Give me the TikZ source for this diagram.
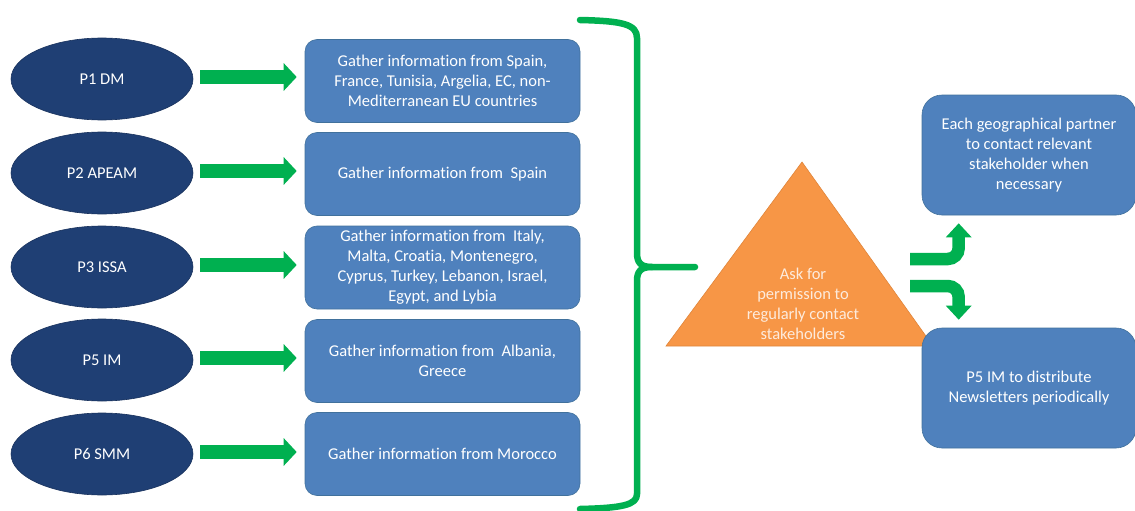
\documentclass[tikz,border=0pt]{standalone}
\usepackage{fontspec}
\setmainfont{Carlito}[Ligatures=NoCommon]
\usetikzlibrary{shapes.geometric,arrows.meta,calc}
\definecolor{navy}{HTML}{1F3F74}
\definecolor{boxblue}{HTML}{4F81BD}
\definecolor{boxedge}{HTML}{41719C}
\definecolor{ggreen}{HTML}{00B050}
\definecolor{gorange}{HTML}{F79646}
\definecolor{oedge}{HTML}{E0853A}
\definecolor{ptext}{HTML}{FDEBDD}
\tikzset{
  partner/.style={ellipse, fill=navy, draw=navy!80!black, line width=0.6pt, minimum width=182pt, minimum height=82pt, inner sep=0pt, text=white, font=\fontsize{16.5}{20}\selectfont},
  infobox/.style={rectangle, rounded corners=12pt, fill=boxblue, draw=boxedge, line width=0.6pt, minimum width=275pt, minimum height=83pt, inner sep=2pt, align=center, text=white, font=\fontsize{16.5}{20}\selectfont},
  outbox/.style={rectangle, rounded corners=20pt, fill=boxblue, draw=boxedge, line width=0.6pt, minimum width=214pt, minimum height=120pt, inner sep=2pt, align=center, text=white, font=\fontsize{16.5}{20}\selectfont},
  garrow/.style={draw=ggreen, line width=14pt, -{Triangle[width=27pt,length=13pt]}, shorten <=7pt, shorten >=8pt},
  bentarrow/.style={draw=ggreen, line width=12.5pt, rounded corners=11pt, -{Triangle[width=25pt,length=14pt]}},
  bracepath/.style={draw=ggreen, line width=6.5pt, line cap=round, line join=round},
}
\begin{document}
\begin{tikzpicture}[x=1pt,y=-1pt]
\useasboundingbox (0,0) rectangle (1135,511);
% partners
\node[partner] (e1) at (102,79) {P1 DM};
\node[partner] (e2) at (102,173) {P2 APEAM};
\node[partner] (e3) at (102,267) {P3 ISSA};
\node[partner] (e4) at (102,360) {P5 IM};
\node[partner] (e5) at (102,454) {P6 SMM};
% info boxes
\node[infobox] (b1) at (442.5,81) {Gather information from Spain,\\France, Tunisia, Argelia, EC, non-\\Mediterranean EU countries};
\node[infobox] (b2) at (442.5,174) {Gather information from~ Spain};
\node[infobox] (b3) at (442.5,267.5) {Gather information from~ Italy,\\Malta, Croatia, Montenegro,\\Cyprus, Turkey, Lebanon, Israel,\\Egypt, and Lybia};
\node[infobox] (b4) at (442.5,361) {Gather information from~ Albania,\\Greece};
\node[infobox] (b5) at (442.5,454) {Gather information from Morocco};
% arrows
\foreach \i in {1,...,5}{
  \draw[garrow] ([yshift=2pt]e\i.east) -- ([yshift=2pt]b\i.west |- e\i.east);
}
% brace
\draw[bracepath] (580,20) .. controls (622,21) and (637,24) .. (637,38) -- (637,253) .. controls (637,263) and (641,267) .. (652,267) -- (695,267);
\draw[bracepath] (652,267) .. controls (641,267) and (637,271) .. (637,281) -- (637,494) .. controls (637,505) and (622,508) .. (580,509);
% triangle
\coordinate (ta) at (802,162);
\coordinate (tl) at (666,346);
\coordinate (tr2) at (933,346);
\draw[fill=gorange, draw=oedge, line width=0.6pt] (ta) -- (tl) -- (tr2) -- cycle;
\node[align=center, text=ptext, font=\fontsize{16.5}{20}\selectfont] (tt) at (803,304) {Ask for\\permission to\\regularly contact\\stakeholders};
% output boxes
\node[outbox] (tr) at (1029,155) {Each geographical partner\\to contact relevant\\stakeholder when\\necessary};
\node[outbox] (br) at (1029,388) {P5 IM to distribute\\Newsletters periodically};
% bent arrows
\coordinate (u1) at (910,259);
\coordinate (u2) at (910,286);
\draw[bentarrow] (u1) -| ([shift={(37pt,-8pt)}]tr.south west);
\draw[bentarrow] (u2) -| ([shift={(37pt,8pt)}]br.north west);
\end{tikzpicture}
\end{document}
